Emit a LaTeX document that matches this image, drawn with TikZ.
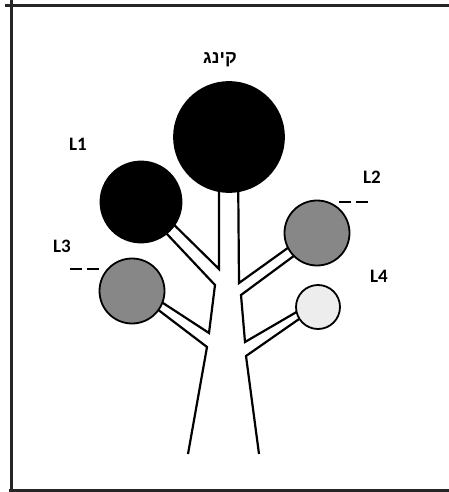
\documentclass[tikz,border=0pt]{standalone}
\usepackage{fontspec}
\setmainfont{Carlito}
\newfontfamily\hebfont[Script=Hebrew]{Liberation Sans}
\TeXXeTstate=1
\begin{document}
\begin{tikzpicture}[x=1pt,y=-1pt,
  frame/.style={line width=3pt,black!85},
  branch/.style={line width=2.2pt,line join=miter},
  ball/.style={circle,draw=black,line width=1.8pt,inner sep=0pt},
  lab/.style={font=\fontsize{19}{21}\selectfont\bfseries},
  dashmark/.style={line width=2pt,dash pattern=on 12pt off 5pt}]
\useasboundingbox (0,0) rectangle (449,492);
% frame
\draw[frame] (11,0) -- (11,492);
\draw[frame] (5,6) -- (449,6);
\draw[frame] (9,490) -- (449,490);
% trunk and branches
\draw[branch] (160,211) -- (219,269) -- (219,160);
\draw[branch] (150,216) -- (215,285) -- (209,333) -- (140,288);
\draw[branch] (140,296) -- (207,347) -- (188,454);
\draw[branch] (238,160) -- (239,283) -- (310,232);
\draw[branch] (310,244) -- (241,295) -- (245,342) -- (312,303);
\draw[branch] (312,310) -- (246,356) -- (259,454);
% circles
\node[ball,fill=black,minimum size=110pt] (king) at (229,137) {};
\node[ball,fill=black,minimum size=81pt] (l1) at (141,202) {};
\node[ball,fill=black!47,minimum size=65pt] (l2) at (317,233) {};
\node[ball,fill=black!47,minimum size=65pt] (l3) at (132,291) {};
\node[ball,fill=black!7,minimum size=44pt] (l4) at (318,307) {};
% labels
\node[font=\hebfont\fontsize{18}{20}\selectfont\bfseries] (kinglab) at (220,60) {\beginR קינג\endR};
\node[lab] (l1lab) at (78,144) {L1};
\node[lab] (l2lab) at (372,177) {L2};
\node[lab] (l3lab) at (62,246) {L3};
\node[lab] (l4lab) at (379,276) {L4};
% dash marks
\coordinate (d2a) at (339,202); \coordinate (d2b) at (369,202);
\coordinate (d3a) at (70,269); \coordinate (d3b) at (100,269);
\draw[dashmark] (d2a) -- (d2b);
\draw[dashmark] (d3a) -- (d3b);
\end{tikzpicture}
\end{document}
